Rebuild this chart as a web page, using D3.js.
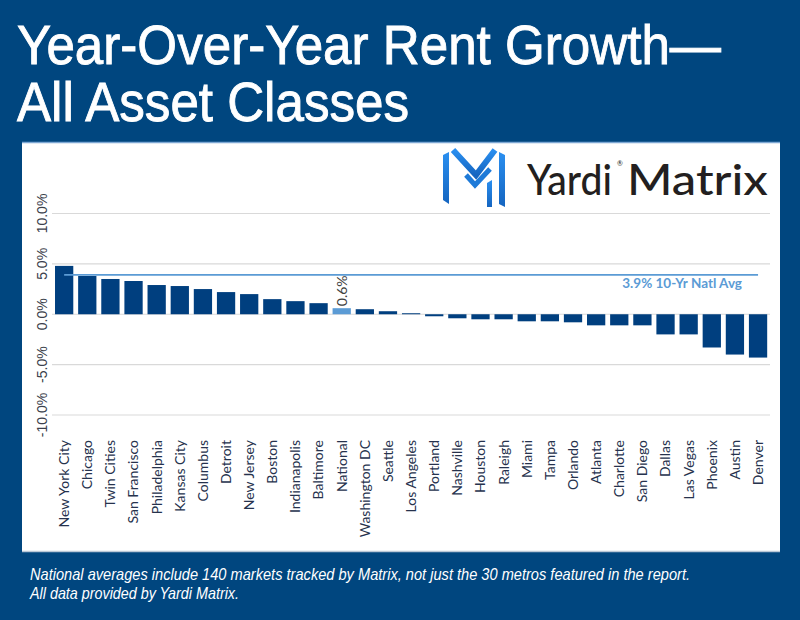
<!DOCTYPE html>
<html>
<head>
<meta charset="utf-8">
<script src="https://cdn.jsdelivr.net/npm/d3@7"></script>
<style>
body { margin: 0; background: #00467f; }
svg { display: block; }
</style>
</head>
<body>
<svg id="chart" width="800" height="620"></svg>
<script>
// data
var metros = ['New York City', 'Chicago', 'Twin Cities', 'San Francisco', 'Philadelphia', 'Kansas City',
	'Columbus', 'Detroit', 'New Jersey', 'Boston', 'Indianapolis', 'Baltimore', 'National', 'Washington DC',
	'Seattle', 'Los Angeles', 'Portland', 'Nashville', 'Houston', 'Raleigh', 'Miami', 'Tampa', 'Orlando',
	'Atlanta', 'Charlotte', 'San Diego', 'Dallas', 'Las Vegas', 'Phoenix', 'Austin', 'Denver'];
var growth = [4.8, 3.8, 3.5, 3.3, 2.9, 2.8, 2.5, 2.2, 2.0, 1.5, 1.3, 1.1, 0.6, 0.5,
	0.3, 0.1, -0.2, -0.4, -0.5, -0.5, -0.7, -0.7, -0.8, -1.1, -1.1, -1.1, -2.0, -2.0, -3.3, -4.0, -4.3];
var yTicks = [-10, -5, 0, 5, 10];
var yTickLabels = ['-10.0%', '-5.0%', '0.0%', '5.0%', '10.0%'];
var natlAvg = 3.9;
var natlAvgLabel = '3.9% 10-Yr Natl Avg';
var highlight = 'National';

var svg = d3.select('#chart');
var bg = '#00467f', barColor = '#003f7f', lightBlue = '#5b9bd5';

// background + white panel
svg.append('rect').attr('width', 800).attr('height', 620).attr('fill', bg);
svg.append('rect').attr('x', 22).attr('y', 142).attr('width', 758).attr('height', 410).attr('fill', '#ffffff');
svg.append('line').attr('x1', 22).attr('x2', 780).attr('y1', 142.5).attr('y2', 142.5).attr('stroke', '#7ea8d4').attr('stroke-width', 1.5);
svg.append('line').attr('x1', 22).attr('x2', 780).attr('y1', 551.5).attr('y2', 551.5).attr('stroke', '#b9c7d6').attr('stroke-width', 1.5);

// title: slightly squeezed sans, thin stroke for a medium weight
var titleFont = '"Liberation Sans", Arial, sans-serif';
svg.append('text').attr('x', 17).attr('y', 64).attr('fill', '#fff')
	.attr('stroke', '#fff').attr('stroke-width', 0.9)
	.style('font-family', titleFont).style('font-size', '56px')
	.attr('textLength', 704).attr('lengthAdjust', 'spacingAndGlyphs')
	.text('Year-Over-Year Rent Growth\u2014');
svg.append('text').attr('x', 17).attr('y', 121).attr('fill', '#fff')
	.attr('stroke', '#fff').attr('stroke-width', 0.9)
	.style('font-family', titleFont).style('font-size', '56px')
	.attr('textLength', 392).attr('lengthAdjust', 'spacingAndGlyphs')
	.text('All Asset Classes');

// footer
svg.append('text').attr('x', 30).attr('y', 580).attr('fill', '#fff')
	.style('font-family', titleFont).style('font-size', '16.5px').style('font-style', 'italic')
	.attr('textLength', 660).attr('lengthAdjust', 'spacingAndGlyphs')
	.text('National averages include 140 markets tracked by Matrix, not just the 30 metros featured in the report.');
svg.append('text').attr('x', 30).attr('y', 599).attr('fill', '#fff')
	.style('font-family', titleFont).style('font-size', '16.5px').style('font-style', 'italic')
	.attr('textLength', 209).attr('lengthAdjust', 'spacingAndGlyphs')
	.text('All data provided by Yardi Matrix.');

// logo
var defs = svg.append('defs');
var grad = defs.append('linearGradient').attr('id', 'logoGrad').attr('x1', 0).attr('y1', 0).attr('x2', 0).attr('y2', 1);
grad.append('stop').attr('offset', '0%').attr('stop-color', '#2a8ff0');
grad.append('stop').attr('offset', '100%').attr('stop-color', '#1565c0');
var logo = svg.append('g').attr('transform', 'translate(443,147)');
logo.append('polygon').attr('points', '0,8 6,5 6,57 0,53').attr('fill', 'url(#logoGrad)');
logo.append('polygon').attr('points', '56,5 62,8 62,60 56,57').attr('fill', 'url(#logoGrad)');
logo.append('polyline').attr('points', '10,3 33,28 52,3').attr('fill', 'none')
	.attr('stroke', 'url(#logoGrad)').attr('stroke-width', 6);
logo.append('polyline').attr('points', '23,28 32,38 47,22').attr('fill', 'none')
	.attr('stroke', '#1e7ad8').attr('stroke-width', 5);
logo.append('polygon').attr('points', '44,36 49,33 49,60 44,60').attr('fill', 'url(#logoGrad)');
var logoFont = 'Lato, "Open Sans", sans-serif';
svg.append('text').attr('x', 527).attr('y', 195).attr('fill', '#231f20')
	.style('font-family', logoFont).style('font-size', '42px').style('font-weight', 500)
	.attr('textLength', 85).attr('lengthAdjust', 'spacingAndGlyphs').text('Yardi');
svg.append('text').attr('x', 617).attr('y', 166).attr('fill', '#231f20')
	.style('font-family', logoFont).style('font-size', '7px').text('\u00ae');
svg.append('text').attr('x', 627).attr('y', 195).attr('fill', '#231f20')
	.style('font-family', logoFont).style('font-size', '42px').style('font-weight', 500)
	.attr('textLength', 141).attr('lengthAdjust', 'spacingAndGlyphs').text('Matrix');

// scales
var x = d3.scaleBand().domain(metros).range([52.7, 769.5]).paddingInner(0.21).paddingOuter(0.1);
var y = d3.scaleLinear().domain([-10, 10]).range([415, 213.5]);

// gridlines
svg.append('g').selectAll('line').data(yTicks).enter().append('line')
	.attr('x1', 52).attr('x2', 770)
	.attr('y1', d => y(d)).attr('y2', d => y(d))
	.attr('stroke', '#d9d9d9').attr('stroke-width', 1.2);

// y labels (rotated)
svg.append('g').selectAll('text').data(yTicks).enter().append('text')
	.attr('transform', d => 'translate(42.5,' + y(d) + ') rotate(-90)')
	.attr('text-anchor', 'middle').attr('dy', '0.35em')
	.attr('fill', '#3b3f4c')
	.style('font-family', '"Liberation Sans", Arial, sans-serif').style('font-size', '14px')
	.text((d, i) => yTickLabels[i]);

// bars
var data = metros.map((m, i) => ({name: m, value: growth[i]}));
svg.append('g').selectAll('rect').data(data).enter().append('rect')
	.attr('x', d => x(d.name)).attr('width', x.bandwidth())
	.attr('y', d => y(Math.max(0, d.value)))
	.attr('height', d => Math.abs(y(d.value) - y(0)))
	.attr('fill', d => d.name === highlight ? lightBlue : barColor);

// national value label
var nat = data.find(d => d.name === highlight);
svg.append('text')
	.attr('transform', 'translate(' + (x(nat.name) + x.bandwidth() / 2) + ',' + (y(nat.value) - 2) + ') rotate(-90)')
	.attr('dy', '0.35em').attr('fill', '#404040')
	.style('font-family', 'Lato, sans-serif').style('font-size', '14px')
	.text(nat.value.toFixed(1) + '%');

// 10-yr average line
var xFirst = x(metros[0]) + x.bandwidth() / 2, xLast = x(metros[metros.length - 1]) + x.bandwidth() / 2;
svg.append('line').attr('x1', xFirst).attr('x2', xLast)
	.attr('y1', y(natlAvg)).attr('y2', y(natlAvg))
	.attr('stroke', lightBlue).attr('stroke-width', 1.8);
svg.append('text').attr('x', 742).attr('y', 288).attr('text-anchor', 'end')
	.attr('fill', lightBlue).style('font-family', 'Lato, sans-serif').style('font-weight', 'bold').style('font-size', '13.5px')
	.text(natlAvgLabel);

// x labels (rotated)
svg.append('g').selectAll('text').data(metros).enter().append('text')
	.attr('transform', d => 'translate(' + (x(d) + x.bandwidth() / 2) + ',440) rotate(-90)')
	.attr('text-anchor', 'end').attr('dy', '0.35em')
	.attr('fill', '#26324d')
	.style('font-family', 'Lato, sans-serif').style('font-size', '14px')
	.text(d => d);
</script>
</body>
</html>
